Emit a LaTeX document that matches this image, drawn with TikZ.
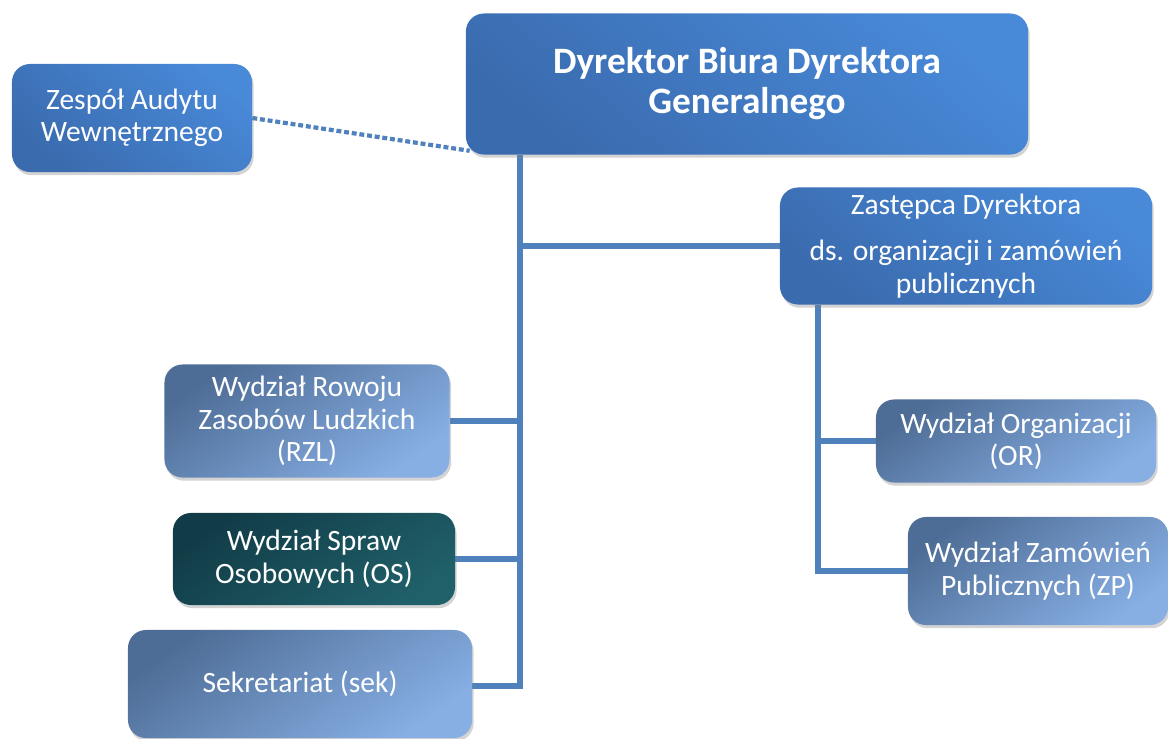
\documentclass[tikz,border=0pt]{standalone}
\usepackage{fontspec}
\setmainfont{Carlito}
\usetikzlibrary{positioning,shadows,backgrounds}

\definecolor{linia}{HTML}{4F81BD}
\definecolor{ciemnyN}{HTML}{3A6BAE}
\definecolor{jasnyN}{HTML}{4889D8}
\definecolor{ciemnyW}{HTML}{4E6D96}
\definecolor{jasnyW}{HTML}{87AFE4}
\definecolor{ciemnyOS}{HTML}{113C47}
\definecolor{jasnyOS}{HTML}{206069}

\begin{document}
\begin{tikzpicture}[
  x=0.025cm, y=-0.025cm,
  font=\fontsize{21}{23}\selectfont,
  box/.style={rounded corners=0.45cm, align=center, text=white, inner sep=2pt,
    drop shadow={opacity=0.35, shadow xshift=0.04cm, shadow yshift=-0.08cm}},
  szef/.style={box, top color=ciemnyN, bottom color=jasnyN, shading angle=140},
  wydz/.style={box, top color=ciemnyW, bottom color=jasnyW, shading angle=35},
  wydzos/.style={box, top color=ciemnyOS, bottom color=jasnyOS, shading angle=35},
  pol/.style={draw=linia, line width=3.8pt},
  kropki/.style={draw=linia, line width=3pt, dash pattern=on 3.5pt off 2pt}
]
\useasboundingbox (0,0) rectangle (1168,738);

% Kierownictwo
\node[szef, minimum width=14.05cm, minimum height=3.525cm,
  font=\fontsize{26.5}{28.5}\selectfont\bfseries] (dyr) at (747,84)
  {Dyrektor Biura Dyrektora\\Generalnego};
\node[szef, minimum width=6cm, minimum height=2.7cm] (aud) at (132,118)
  {Zespół Audytu\\Wewnętrznego};
\node[szef, minimum width=9.3cm, minimum height=2.925cm] (zast) at (966,246)
  {Zastępca Dyrektora\\[10pt]ds. organizacji i zamówień\\publicznych};

% Wydziały (lewa strona)
\node[wydz, minimum width=7.125cm, minimum height=2.825cm] (rzl) at (307,421)
  {Wydział Rowoju\\Zasobów Ludzkich\\(RZL)};
\node[wydzos, minimum width=7.05cm, minimum height=2.3cm] (os) at (314,559)
  {Wydział Spraw\\Osobowych (OS)};
\node[wydz, minimum width=8.6cm, minimum height=2.7cm] (sek) at (300,684)
  {Sekretariat (sek)};

% Wydziały (prawa strona)
\node[wydz, minimum width=7cm, minimum height=2.075cm] (or) at (1016,441)
  {Wydział Organizacji\\(OR)};
\node[wydz, minimum width=6.5cm, minimum height=2.7cm] (zp) at (1038,571)
  {Wydział Zamówień\\Publicznych (ZP)};

% Linie podległości
\coordinate (pion) at (520,686);
\coordinate (pionP) at (818,571);
\begin{scope}[on background layer]
\draw[pol] (dyr.south -| pion) -- (pion) -- (sek.east |- pion);
\draw[pol] (zast.west) -- (zast.west -| pion);
\draw[pol] (rzl.east) -- (rzl.east -| pion);
\draw[pol] (os.east) -- (os.east -| pion);
\draw[pol] (zast.south -| pionP) -- (pionP) -- (zp.west |- pionP);
\draw[pol] (or.west) -- (or.west -| pionP);
\draw[kropki] (aud.east) -- ([xshift=0.1cm,yshift=0.1cm]dyr.south west);
\end{scope}

\end{tikzpicture}
\end{document}
